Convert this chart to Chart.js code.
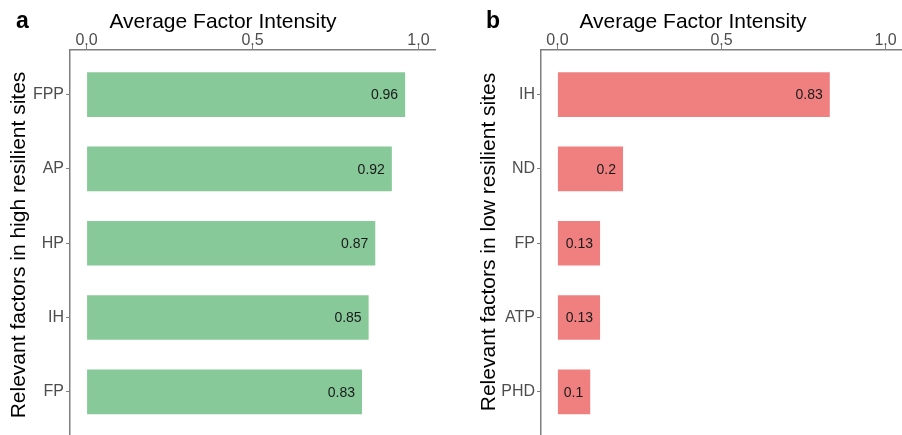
<!DOCTYPE html>
<html>
<head>
<meta charset="utf-8">
<script src="https://cdn.jsdelivr.net/npm/chart.js@4.4.1/dist/chart.umd.min.js"></script>
<style>
  body { margin: 0; background: #fff; }
  .panel { position: absolute; top: 0; width: 451px; height: 435px; }
</style>
</head>
<body>
<div class="panel" style="left:0"><canvas id="chartA"></canvas></div>
<div class="panel" style="left:451px"><canvas id="chartB"></canvas></div>
<script>
// factors and their average intensity, top to bottom
const highFactors = ['FPP', 'AP', 'HP', 'IH', 'FP'];
const highValues = [0.96, 0.92, 0.87, 0.85, 0.83];
const lowFactors = ['IH', 'ND', 'FP', 'ATP', 'PHD'];
const lowValues = [0.83, 0.2, 0.13, 0.13, 0.1];
const intensityTicks = [0, 0.5, 1.0];

const FONT = '"Liberation Sans", Arial, sans-serif';
const AXIS_GREY = '#7f7f7f';
const TICK_GREY = '#4d4d4d';

// value written inside the end of each bar (centred when the bar is too short)
const barLabels = {
    id: 'barLabels',
    afterDatasetsDraw(chart) {
        const ctx = chart.ctx;
        const meta = chart.getDatasetMeta(0);
        const data = chart.data.datasets[0].data;
        ctx.save();
        ctx.font = '14px ' + FONT;
        ctx.fillStyle = '#1a1a1a';
        ctx.textBaseline = 'middle';
        meta.data.forEach((bar, i) => {
            const text = String(data[i].x);
            const w = ctx.measureText(text).width;
            const len = bar.x - bar.base;
            if (len < w + 12) {
                ctx.textAlign = 'center';
                ctx.fillText(text, (bar.x + bar.base) / 2, bar.y + 1);
            } else {
                ctx.textAlign = 'right';
                ctx.fillText(text, bar.x - 7, bar.y + 1);
            }
        });
        ctx.restore();
    }
};

// panel letter, top axis title and rotated y title
const panelText = {
    id: 'panelText',
    afterDraw(chart, args, opts) {
        const ctx = chart.ctx;
        ctx.save();
        ctx.fillStyle = '#000';
        ctx.textBaseline = 'alphabetic';
        ctx.font = 'bold 23px ' + FONT;
        ctx.textAlign = 'left';
        ctx.fillText(opts.letter, opts.letterX, 28);
        ctx.font = '21px ' + FONT;
        ctx.textAlign = 'center';
        ctx.fillText(opts.title, opts.titleX, 28);
        ctx.translate(opts.yTitleX, opts.yTitleY);
        ctx.rotate(-Math.PI / 2);
        ctx.fillText(opts.yTitle, 0, 0);
        ctx.restore();
    }
};

function createFactorChart(canvasId, factors, values, color, text, yAxisWidth, padRight) {
    const points = values.map((v, i) => ({ x: v, y: i }));
    new Chart(document.getElementById(canvasId), {
        type: 'bar',
        data: {
            datasets: [{
                data: points,
                backgroundColor: color,
                borderWidth: 0,
                categoryPercentage: 0.6,
                barPercentage: 1
            }]
        },
        options: {
            indexAxis: 'y',
            responsive: true,
            maintainAspectRatio: false,
            animation: false,
            layout: { padding: { left: 0, top: 0, right: padRight, bottom: 0 } },
            scales: {
                x: {
                    type: 'linear',
                    position: 'top',
                    min: -0.05,
                    max: 1.05,
                    afterFit: s => {
                        s.height = 50;
                        s.paddingLeft = 0;
                        s.paddingRight = 0;
                    },
                    afterBuildTicks: s => { s.ticks = intensityTicks.map(v => ({ value: v })); },
                    border: { color: AXIS_GREY, width: 1.5 },
                    grid: { drawOnChartArea: false, tickLength: 5, color: AXIS_GREY },
                    ticks: {
                        padding: -5,
                        color: TICK_GREY,
                        font: { family: FONT, size: 16 },
                        callback: v => Number(v).toFixed(1)
                    }
                },
                y: {
                    type: 'linear',
                    reverse: true,
                    offset: false,
                    min: -0.6,
                    max: 4.58,
                    afterFit: s => {
                        s.width = yAxisWidth;
                        // let the axis run to the bottom edge
                        s.paddingTop = 0;
                        s.paddingBottom = 0;
                    },
                    afterBuildTicks: s => { s.ticks = factors.map((_, i) => ({ value: i })); },
                    border: { color: AXIS_GREY, width: 1.5 },
                    grid: { offset: false, drawOnChartArea: false, tickLength: 4, color: AXIS_GREY },
                    ticks: {
                        padding: 2,
                        color: TICK_GREY,
                        font: { family: FONT, size: 16 },
                        callback: v => factors[v]
                    }
                }
            },
            plugins: {
                legend: { display: false },
                tooltip: { enabled: false },
                panelText: text
            }
        },
        plugins: [barLabels, panelText]
    });
}

createFactorChart('chartA', highFactors, highValues, '#88c999', {
    letter: 'a', letterX: 16,
    title: 'Average Factor Intensity', titleX: 223,
    yTitle: 'Relevant factors in high resilient sites', yTitleX: 25, yTitleY: 245
}, 70, 16);

createFactorChart('chartB', lowFactors, lowValues, '#f08080', {
    letter: 'b', letterX: 35,
    title: 'Average Factor Intensity', titleX: 242,
    yTitle: 'Relevant factors in low resilient sites', yTitleX: 44, yTitleY: 242
}, 90, 0);
</script>
</body>
</html>
